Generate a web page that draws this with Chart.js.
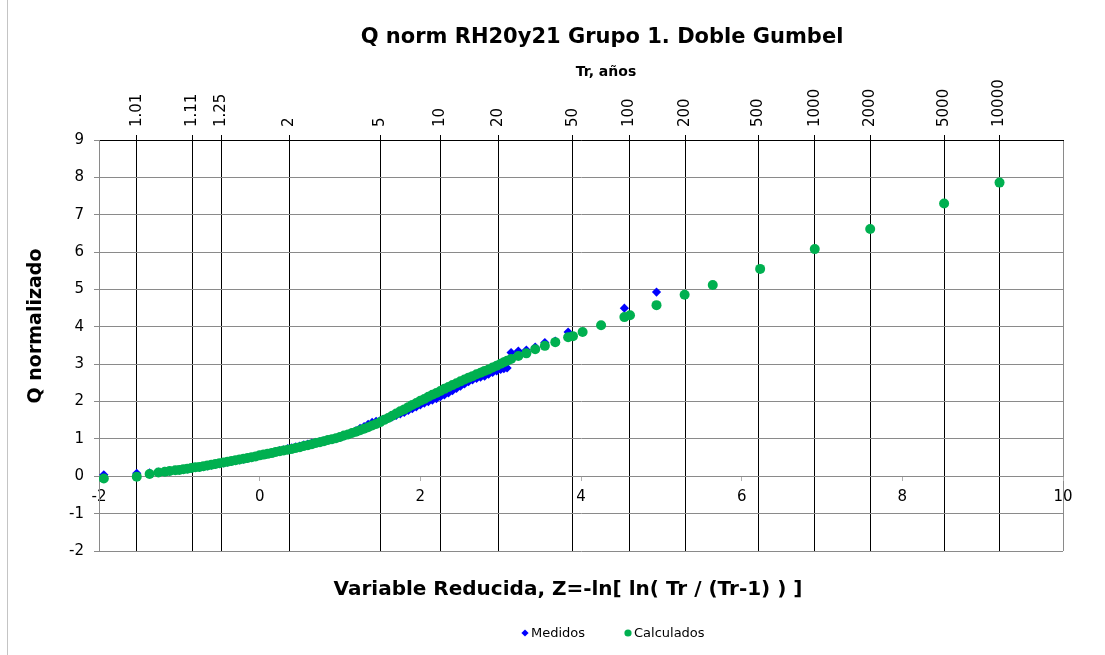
<!DOCTYPE html>
<html>
<head>
<meta charset="utf-8">
<title>Q norm RH20y21 Grupo 1. Doble Gumbel</title>
<script src="https://cdn.jsdelivr.net/npm/chart.js@4.4.0/dist/chart.umd.min.js"></script>
<style>
  html, body { margin: 0; padding: 0; background: #fff; }
  #marco { position: absolute; left: 7px; top: 0; width: 1px; height: 655px; background: #c4c4c4; }
  canvas { position: absolute; left: 0; top: 0; }
</style>
</head>
<body>
<div id="marco"></div>
<canvas id="grafico" width="1105" height="655"></canvas>
<script>
// Textos
const titulo = 'Q norm RH20y21 Grupo 1. Doble Gumbel';
const tituloTr = 'Tr, años';
const tituloX = 'Variable Reducida, Z=-ln[ ln( Tr / (Tr-1) ) ]';
const tituloY = 'Q normalizado';

// Eje superior: periodos de retorno y su variable reducida Z
const trLabels = ['1.01', '1.11', '1.25', '2', '5', '10', '20', '50', '100', '200', '500', '1000', '2000', '5000', '10000'];
const trZ = [-1.53, -0.84, -0.48, 0.37, 1.50, 2.25, 2.97, 3.90, 4.60, 5.30, 6.21, 6.91, 7.60, 8.52, 9.21];

// Medidos (Z, Q)
const zMedidos = [-1.94, -1.53, -1.37, -1.26, -1.18, -1.12, -1.05, -1.00, -0.95, -0.90, -0.85, -0.80, -0.75, -0.70, -0.65, -0.60, -0.55, -0.50, -0.45, -0.40,
  -0.35, -0.30, -0.25, -0.20, -0.15, -0.10, -0.05, 0.00, 0.05, 0.10, 0.15, 0.20, 0.25, 0.30, 0.35, 0.40, 0.45, 0.50, 0.55, 0.60,
  0.65, 0.70, 0.75, 0.80, 0.85, 0.90, 0.95, 1.00, 1.05, 1.10, 1.15, 1.20, 1.25, 1.30, 1.35, 1.40, 1.45, 1.50, 1.55, 1.60,
  1.65, 1.70, 1.75, 1.80, 1.85, 1.90, 1.95, 2.00, 2.05, 2.10, 2.15, 2.20, 2.25, 2.30, 2.35, 2.40, 2.45, 2.50, 2.55, 2.60,
  2.65, 2.70, 2.75, 2.80, 2.85, 2.90, 2.95, 3.00, 3.04, 3.08, 3.13, 3.22, 3.32, 3.43, 3.55, 3.68, 3.84, 4.54, 4.94];
const qMedidos = [0.04, 0.08, 0.09, 0.11, 0.13, 0.14, 0.16, 0.17, 0.18, 0.20, 0.21, 0.23, 0.24, 0.26, 0.28, 0.30, 0.32, 0.34, 0.36, 0.38,
  0.40, 0.42, 0.44, 0.46, 0.48, 0.50, 0.53, 0.56, 0.58, 0.61, 0.63, 0.66, 0.69, 0.71, 0.74, 0.76, 0.79, 0.81, 0.84, 0.86,
  0.89, 0.91, 0.93, 0.95, 0.97, 0.99, 1.01, 1.04, 1.08, 1.12, 1.17, 1.22, 1.28, 1.33, 1.39, 1.44, 1.47, 1.49, 1.52, 1.55,
  1.59, 1.63, 1.67, 1.71, 1.76, 1.81, 1.86, 1.91, 1.96, 2.00, 2.04, 2.08, 2.13, 2.18, 2.23, 2.29, 2.35, 2.41, 2.47, 2.53,
  2.58, 2.62, 2.65, 2.68, 2.73, 2.78, 2.82, 2.86, 2.88, 2.90, 3.31, 3.35, 3.38, 3.46, 3.58, 3.62, 3.86, 4.50, 4.93];

// Calculados (Z, Q)
const zCalculados = [-1.94, -1.53, -1.37, -1.26, -1.18, -1.12, -1.05, -1.00, -0.95, -0.90, -0.85, -0.80, -0.75, -0.70, -0.65, -0.60, -0.55, -0.50, -0.45, -0.40,
  -0.35, -0.30, -0.25, -0.20, -0.15, -0.10, -0.05, 0.00, 0.05, 0.10, 0.15, 0.20, 0.25, 0.30, 0.35, 0.40, 0.45, 0.50, 0.55, 0.60,
  0.65, 0.70, 0.75, 0.80, 0.85, 0.90, 0.95, 1.00, 1.05, 1.10, 1.15, 1.20, 1.25, 1.30, 1.35, 1.40, 1.45, 1.50, 1.55, 1.60,
  1.65, 1.70, 1.75, 1.80, 1.85, 1.90, 1.95, 2.00, 2.05, 2.10, 2.15, 2.20, 2.25, 2.30, 2.35, 2.40, 2.45, 2.50, 2.55, 2.60,
  2.65, 2.70, 2.75, 2.80, 2.85, 2.90, 2.95, 3.00, 3.04, 3.08, 3.13, 3.22, 3.32, 3.43, 3.55, 3.68, 3.84, 4.54, 4.94,
  3.90, 4.02, 4.25, 4.61, 5.29, 5.64, 6.23, 6.91, 7.60, 8.52, 9.21];
const qCalculados = [-0.06, -0.01, 0.06, 0.10, 0.12, 0.14, 0.16, 0.17, 0.19, 0.20, 0.22, 0.24, 0.25, 0.27, 0.29, 0.31, 0.33, 0.35, 0.37, 0.39,
  0.41, 0.43, 0.45, 0.47, 0.49, 0.51, 0.53, 0.56, 0.58, 0.60, 0.62, 0.65, 0.67, 0.69, 0.71, 0.73, 0.76, 0.78, 0.81, 0.83,
  0.86, 0.89, 0.91, 0.94, 0.97, 0.99, 1.02, 1.05, 1.09, 1.12, 1.16, 1.19, 1.23, 1.27, 1.31, 1.36, 1.40, 1.45, 1.51, 1.56,
  1.62, 1.68, 1.74, 1.79, 1.85, 1.91, 1.96, 2.02, 2.07, 2.13, 2.18, 2.23, 2.28, 2.34, 2.39, 2.44, 2.49, 2.54, 2.59, 2.64,
  2.68, 2.73, 2.77, 2.82, 2.86, 2.91, 2.96, 3.01, 3.05, 3.09, 3.14, 3.22, 3.29, 3.40, 3.49, 3.59, 3.72, 4.26, 4.58,
  3.75, 3.86, 4.04, 4.31, 4.86, 5.12, 5.55, 6.08, 6.62, 7.30, 7.86];

const fuente = '"DejaVu Sans", Verdana, sans-serif';
const gris = '#8a8a8a';

function puntos(zs, qs) {
  return zs.map((z, i) => ({ x: z, y: qs[i] }));
}

// titulos y leyenda dibujados sobre el canvas
const textos = {
  id: 'textos',
  afterDraw(chart) {
    const ctx = chart.ctx;
    ctx.save();
    ctx.fillStyle = '#000';
    ctx.textAlign = 'center';
    ctx.textBaseline = 'middle';

    ctx.font = 'bold 21px ' + fuente;
    ctx.fillText(titulo, 602, 38);

    ctx.font = 'bold 14px ' + fuente;
    ctx.fillText(tituloTr, 606, 72);

    ctx.font = 'bold 20px ' + fuente;
    ctx.fillText(tituloX, 568, 590);

    ctx.save();
    ctx.translate(36, 326);
    ctx.rotate(-Math.PI / 2);
    ctx.font = 'bold 19px ' + fuente;
    ctx.fillText(tituloY, 0, 0);
    ctx.restore();

    // leyenda: Medidos, Calculados
    const items = [{ ds: 1, x: 525 }, { ds: 0, x: 628 }];
    ctx.font = '13px ' + fuente;
    ctx.textAlign = 'left';
    items.forEach(it => {
      const ds = chart.data.datasets[it.ds];
      ctx.fillStyle = ds.backgroundColor;
      Chart.helpers.drawPoint(ctx, { pointStyle: ds.pointStyle, radius: 3.6, rotation: 0, borderWidth: 0 }, it.x, 633);
      ctx.fillStyle = '#000';
      ctx.fillText(ds.label, it.x + 6, 634);
    });
    ctx.restore();
  }
};

const chart = new Chart(document.getElementById('grafico'), {
  type: 'scatter',
  data: {
    datasets: [{
      label: 'Calculados',
      data: puntos(zCalculados, qCalculados),
      pointStyle: 'circle',
      backgroundColor: '#00b050',
      borderColor: '#00b050',
      pointRadius: 5,
      pointBorderWidth: 0
    }, {
      label: 'Medidos',
      data: puntos(zMedidos, qMedidos),
      pointStyle: 'rectRot',
      backgroundColor: '#0000ff',
      borderColor: '#0000ff',
      pointRadius: 4.6,
      pointBorderWidth: 0
    }]
  },
  options: {
    responsive: false,
    animation: false,
    layout: { padding: { left: 60, right: 42, top: 0, bottom: 104 } },
    plugins: {
      legend: { display: false },
      title: { display: false },
      tooltip: { enabled: false }
    },
    scales: {
      x: {
        type: 'linear',
        position: { y: 0 },
        min: -2,
        max: 10,
        ticks: { stepSize: 2, padding: 8, color: '#000', font: { size: 15, family: fuente } },
        grid: {
          drawOnChartArea: true,
          color: c => (c.tick && c.tick.value === 10) ? gris : 'rgba(0,0,0,0)',
          tickColor: '#b0b0b0',
          tickLength: 4
        },
        border: { color: gris }
      },
      x2: {
        type: 'linear',
        position: 'top',
        min: -2,
        max: 10,
        afterBuildTicks: s => { s.ticks = trZ.map(v => ({ value: v })); },
        afterFit: s => { s.height = 140; },
        ticks: {
          autoSkip: false,
          minRotation: 90,
          maxRotation: 90,
          padding: 8,
          labelOffset: 18,
          color: '#000',
          font: { size: 15, family: fuente },
          callback: (v, i) => trLabels[i]
        },
        grid: { color: '#000', tickLength: 5 },
        border: { color: '#000' }
      },
      y: {
        min: -2,
        max: 9,
        afterFit: s => { s.width = 39; },
        ticks: { stepSize: 1, padding: 10, color: '#000', font: { size: 15, family: fuente } },
        grid: { color: gris, tickLength: 5 },
        border: { color: gris }
      }
    }
  },
  plugins: [textos]
});
</script>
</body>
</html>
